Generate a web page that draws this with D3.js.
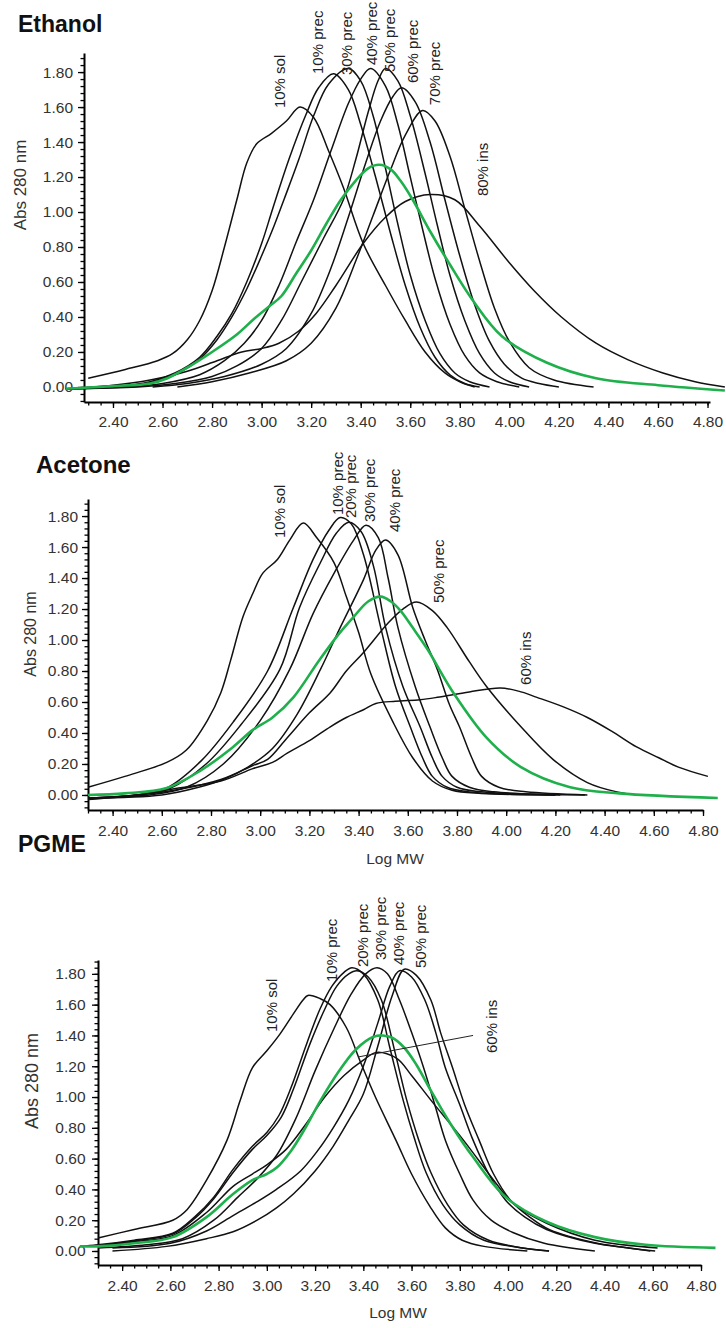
<!DOCTYPE html>
<html>
<head>
<meta charset="utf-8">
<script src="https://cdn.jsdelivr.net/npm/d3@7"></script>
<style>
  body { margin: 0; background: #fff; }
  svg text { font-family: "Liberation Sans", Arial, sans-serif; }
</style>
</head>
<body>
<svg id="chart" width="726" height="1328"></svg>
<script>
// tick labels shared by the three panels
var xTicks = [2.4, 2.6, 2.8, 3.0, 3.2, 3.4, 3.6, 3.8, 4.0, 4.2, 4.4, 4.6, 4.8];
var yTicks = [0, 0.2, 0.4, 0.6, 0.8, 1.0, 1.2, 1.4, 1.6, 1.8];

// ---- Ethanol: [log MW, Abs 280 nm]
var ethanolNames = ["10% sol", "10% prec", "30% prec", "40% prec", "50% prec", "60% prec", "70% prec", "80% ins"];
var eth10sol = [[2.30,0.05],[2.45,0.10],[2.58,0.15],[2.64,0.19],[2.70,0.27],[2.75,0.38],[2.80,0.55],[2.85,0.80],[2.90,1.07],[2.94,1.28],[2.98,1.39],[3.04,1.45],[3.10,1.52],[3.155,1.60],[3.21,1.54],[3.27,1.35],[3.33,1.14],[3.41,0.82],[3.50,0.58],[3.58,0.38],[3.66,0.20],[3.74,0.08],[3.80,0.03],[3.86,0.0]];
var eth10prec = [[2.21,-0.01],[2.40,0.0],[2.55,0.03],[2.65,0.08],[2.75,0.17],[2.82,0.29],[2.88,0.42],[2.94,0.60],[3.00,0.82],[3.045,1.02],[3.11,1.30],[3.18,1.56],[3.23,1.71],[3.29,1.79],[3.35,1.70],[3.40,1.50],[3.46,1.20],[3.52,0.88],[3.58,0.58],[3.64,0.34],[3.70,0.17],[3.76,0.07],[3.82,0.02],[3.88,0.0]];
var eth30prec = [[2.21,-0.01],[2.40,0.0],[2.55,0.025],[2.65,0.07],[2.75,0.16],[2.82,0.27],[2.88,0.40],[2.94,0.56],[3.00,0.75],[3.05,0.92],[3.09,1.07],[3.15,1.30],[3.21,1.55],[3.27,1.73],[3.35,1.82],[3.40,1.75],[3.45,1.55],[3.50,1.25],[3.55,0.93],[3.60,0.64],[3.66,0.38],[3.72,0.19],[3.78,0.08],[3.84,0.03],[3.92,0.0]];
var eth40prec = [[2.21,-0.01],[2.45,0.0],[2.60,0.02],[2.75,0.07],[2.85,0.15],[2.93,0.25],[3.00,0.38],[3.07,0.58],[3.14,0.83],[3.21,1.07],[3.28,1.35],[3.35,1.62],[3.40,1.76],[3.44,1.82],[3.50,1.72],[3.55,1.50],[3.60,1.20],[3.65,0.90],[3.70,0.62],[3.76,0.36],[3.82,0.18],[3.88,0.08],[3.95,0.03],[4.04,0.0]];
var eth50prec = [[2.21,-0.01],[2.50,0.0],[2.65,0.02],[2.80,0.06],[2.90,0.12],[3.00,0.22],[3.08,0.38],[3.16,0.60],[3.25,0.85],[3.33,1.07],[3.38,1.30],[3.43,1.57],[3.47,1.75],[3.50,1.82],[3.55,1.75],[3.60,1.55],[3.66,1.22],[3.71,0.92],[3.76,0.64],[3.82,0.38],[3.88,0.19],[3.94,0.08],[4.00,0.03],[4.08,0.0]];
var eth60prec = [[2.56,0.0],[2.70,0.02],[2.85,0.06],[3.00,0.13],[3.10,0.22],[3.20,0.42],[3.28,0.68],[3.35,0.97],[3.42,1.28],[3.48,1.52],[3.53,1.66],[3.565,1.71],[3.62,1.63],[3.68,1.40],[3.74,1.07],[3.80,0.75],[3.86,0.47],[3.92,0.26],[3.98,0.13],[4.05,0.05],[4.12,0.02],[4.20,0.0]];
var eth70prec = [[2.66,0.0],[2.80,0.03],[2.95,0.08],[3.10,0.15],[3.20,0.25],[3.30,0.45],[3.38,0.72],[3.45,0.98],[3.52,1.24],[3.58,1.44],[3.65,1.58],[3.70,1.52],[3.76,1.32],[3.82,1.02],[3.88,0.72],[3.94,0.45],[4.00,0.26],[4.08,0.11],[4.18,0.04],[4.34,0.0]];
var eth80ins = [[2.21,-0.01],[2.40,0.01],[2.55,0.04],[2.70,0.09],[2.82,0.15],[2.92,0.20],[3.00,0.22],[3.07,0.25],[3.15,0.32],[3.22,0.42],[3.30,0.58],[3.41,0.82],[3.50,0.97],[3.58,1.06],[3.68,1.10],[3.78,1.07],[3.88,0.92],[4.00,0.71],[4.10,0.55],[4.21,0.40],[4.35,0.25],[4.48,0.155],[4.62,0.08],[4.75,0.03],[4.87,0.0]];
var ethParent = [[2.21,-0.01],[2.40,0.005],[2.55,0.02],[2.62,0.05],[2.70,0.11],[2.80,0.20],[2.90,0.30],[2.97,0.39],[3.03,0.46],[3.08,0.52],[3.14,0.65],[3.20,0.78],[3.26,0.93],[3.32,1.07],[3.38,1.18],[3.43,1.25],[3.475,1.27],[3.52,1.245],[3.56,1.18],[3.61,1.07],[3.68,0.89],[3.76,0.70],[3.85,0.50],[3.97,0.29],[4.15,0.14],[4.35,0.05],[4.60,0.01],[4.87,-0.02]];
var ethanolLabelAt = [[3.073,1.594],[3.227,1.789],[3.344,1.783],[3.444,1.84],[3.517,1.80],[3.61,1.737],[3.698,1.611],[3.892,1.091]];

// ---- Acetone
var acetoneNames = ["10% sol", "10% prec", "20% prec", "30% prec", "40% prec", "50% prec", "60% ins"];
var ace10sol = [[2.30,0.05],[2.45,0.12],[2.62,0.21],[2.70,0.29],[2.785,0.48],[2.84,0.66],[2.88,0.87],[2.93,1.15],[2.97,1.30],[3.01,1.43],[3.07,1.52],[3.12,1.645],[3.175,1.755],[3.23,1.66],[3.30,1.50],[3.35,1.28],[3.40,1.05],[3.45,0.78],[3.54,0.47],[3.62,0.24],[3.70,0.09],[3.78,0.03],[3.90,0.01],[4.20,0.0]];
var ace10prec = [[2.30,-0.02],[2.50,0.0],[2.62,0.045],[2.76,0.22],[2.89,0.47],[3.03,0.80],[3.135,1.21],[3.215,1.52],[3.28,1.71],[3.325,1.79],[3.37,1.75],[3.42,1.55],[3.49,1.08],[3.55,0.70],[3.61,0.44],[3.66,0.24],[3.70,0.12],[3.76,0.05],[3.85,0.02],[4.00,0.005],[4.20,0.0]];
var ace20prec = [[2.30,-0.02],[2.50,0.0],[2.63,0.04],[2.78,0.20],[2.92,0.45],[3.08,0.81],[3.16,1.21],[3.245,1.50],[3.31,1.69],[3.36,1.76],[3.41,1.70],[3.46,1.48],[3.51,1.08],[3.58,0.70],[3.65,0.44],[3.70,0.24],[3.74,0.12],[3.80,0.05],[3.90,0.02],[4.22,0.0]];
var ace30prec = [[2.30,-0.02],[2.55,0.0],[2.70,0.05],[2.85,0.20],[3.00,0.48],[3.12,0.81],[3.215,1.17],[3.30,1.43],[3.38,1.645],[3.43,1.74],[3.48,1.66],[3.52,1.40],[3.56,1.08],[3.63,0.70],[3.69,0.44],[3.74,0.24],[3.78,0.12],[3.85,0.05],[3.95,0.02],[4.32,0.0]];
var ace40prec = [[2.30,-0.02],[2.60,0.0],[2.75,0.05],[2.85,0.10],[2.95,0.18],[3.05,0.30],[3.15,0.52],[3.245,0.81],[3.325,1.08],[3.42,1.39],[3.47,1.58],[3.51,1.645],[3.56,1.55],[3.62,1.21],[3.67,1.00],[3.72,0.81],[3.77,0.58],[3.81,0.44],[3.86,0.24],[3.90,0.12],[3.97,0.05],[4.08,0.02],[4.33,0.0]];
var ace50prec = [[2.30,-0.02],[2.50,0.0],[2.65,0.03],[2.84,0.10],[2.97,0.19],[3.03,0.23],[3.11,0.37],[3.20,0.53],[3.285,0.66],[3.35,0.80],[3.42,0.92],[3.52,1.11],[3.58,1.20],[3.635,1.245],[3.70,1.19],[3.76,1.08],[3.85,0.86],[3.92,0.70],[4.06,0.44],[4.19,0.23],[4.33,0.08],[4.45,0.02],[4.54,0.0]];
var ace60ins = [[2.30,-0.03],[2.50,0.0],[2.65,0.04],[2.84,0.09],[2.97,0.17],[3.05,0.21],[3.11,0.27],[3.20,0.35],[3.285,0.44],[3.35,0.50],[3.42,0.55],[3.47,0.59],[3.55,0.605],[3.65,0.615],[3.72,0.63],[3.85,0.665],[3.976,0.69],[4.05,0.67],[4.125,0.63],[4.23,0.57],[4.33,0.50],[4.43,0.41],[4.53,0.31],[4.62,0.24],[4.70,0.18],[4.82,0.12]];
var aceParent = [[2.30,0.0],[2.45,0.01],[2.62,0.045],[2.76,0.16],[2.89,0.31],[2.97,0.42],[3.05,0.50],[3.135,0.63],[3.24,0.87],[3.32,1.04],[3.38,1.15],[3.44,1.25],[3.49,1.28],[3.53,1.25],[3.57,1.19],[3.62,1.08],[3.68,0.94],[3.785,0.66],[3.92,0.37],[4.06,0.18],[4.26,0.05],[4.46,0.01],[4.86,-0.02]];
var acetoneLabelAt = [[3.081,1.658],[3.317,1.806],[3.37,1.787],[3.447,1.761],[3.545,1.697],[3.724,1.239],[4.081,0.71]];

// ---- PGME
var pgmeNames = ["10% sol", "10% prec", "20% prec", "30% prec", "40% prec", "50% prec", "60% ins"];
var pg10sol = [[2.30,0.085],[2.45,0.14],[2.61,0.20],[2.67,0.27],[2.75,0.46],[2.835,0.72],[2.89,0.98],[2.94,1.19],[3.00,1.30],[3.055,1.41],[3.11,1.54],[3.15,1.63],[3.17,1.66],[3.22,1.64],[3.262,1.60],[3.33,1.45],[3.39,1.22],[3.45,1.00],[3.535,0.72],[3.60,0.50],[3.676,0.29],[3.74,0.15],[3.81,0.07],[3.90,0.03],[4.08,0.0]];
var pg10prec = [[2.225,0.03],[2.30,0.04],[2.45,0.07],[2.61,0.115],[2.70,0.22],[2.78,0.35],[2.86,0.53],[2.94,0.68],[3.00,0.77],[3.05,0.88],[3.10,1.06],[3.166,1.35],[3.22,1.57],[3.27,1.72],[3.32,1.81],[3.353,1.84],[3.40,1.80],[3.46,1.63],[3.51,1.32],[3.565,0.98],[3.61,0.74],[3.66,0.51],[3.73,0.30],[3.80,0.17],[3.90,0.07],[4.06,0.02],[4.17,0.0]];
var pg20prec = [[2.30,0.035],[2.45,0.065],[2.61,0.11],[2.70,0.21],[2.78,0.34],[2.86,0.51],[2.94,0.66],[3.00,0.75],[3.06,0.87],[3.11,1.05],[3.18,1.35],[3.24,1.57],[3.29,1.72],[3.34,1.80],[3.374,1.82],[3.42,1.78],[3.475,1.63],[3.53,1.30],[3.58,0.98],[3.63,0.72],[3.68,0.51],[3.75,0.30],[3.815,0.17],[3.92,0.07],[4.06,0.02],[4.17,0.0]];
var pg30prec = [[2.30,0.02],[2.50,0.04],[2.65,0.08],[2.78,0.20],[2.88,0.35],[2.96,0.47],[3.04,0.62],[3.12,0.86],[3.20,1.17],[3.28,1.45],[3.35,1.67],[3.41,1.80],[3.457,1.84],[3.50,1.80],[3.55,1.63],[3.60,1.42],[3.65,1.19],[3.70,0.93],[3.74,0.72],[3.80,0.50],[3.855,0.33],[3.93,0.20],[4.02,0.12],[4.15,0.05],[4.36,0.0]];
var pg40prec = [[2.36,0.02],[2.60,0.05],[2.75,0.13],[2.86,0.23],[2.96,0.32],[3.04,0.40],[3.14,0.52],[3.21,0.65],[3.275,0.80],[3.34,0.98],[3.40,1.20],[3.46,1.48],[3.51,1.72],[3.55,1.82],[3.60,1.78],[3.655,1.63],[3.70,1.42],[3.74,1.19],[3.80,0.95],[3.855,0.72],[3.92,0.50],[3.99,0.33],[4.07,0.22],[4.16,0.14],[4.36,0.05],[4.50,0.02],[4.59,0.0]];
var pg50prec = [[2.36,0.0],[2.585,0.03],[2.75,0.08],[2.86,0.125],[2.96,0.20],[3.04,0.28],[3.11,0.37],[3.20,0.52],[3.275,0.68],[3.34,0.85],[3.40,1.02],[3.46,1.33],[3.52,1.66],[3.57,1.83],[3.62,1.79],[3.68,1.63],[3.72,1.42],[3.77,1.19],[3.82,0.95],[3.88,0.72],[3.94,0.50],[4.01,0.33],[4.09,0.22],[4.17,0.14],[4.37,0.05],[4.50,0.02],[4.61,0.0]];
var pg60ins = [[2.30,0.03],[2.45,0.06],[2.61,0.10],[2.75,0.25],[2.86,0.42],[2.94,0.50],[3.00,0.56],[3.08,0.66],[3.16,0.82],[3.24,1.00],[3.32,1.14],[3.40,1.24],[3.455,1.29],[3.54,1.25],[3.60,1.14],[3.68,0.98],[3.815,0.72],[3.95,0.44],[4.02,0.31],[4.16,0.18],[4.36,0.07],[4.62,0.02]];
var pgParent = [[2.225,0.03],[2.30,0.03],[2.45,0.05],[2.61,0.09],[2.75,0.22],[2.86,0.37],[2.94,0.46],[3.00,0.50],[3.04,0.54],[3.10,0.65],[3.16,0.80],[3.22,0.97],[3.30,1.17],[3.37,1.31],[3.44,1.39],[3.48,1.40],[3.52,1.385],[3.57,1.32],[3.62,1.21],[3.67,1.07],[3.76,0.83],[3.855,0.61],[3.99,0.35],[4.16,0.19],[4.36,0.09],[4.57,0.04],[4.86,0.02]];
var pgmeLabelAt = [[3.021,1.422],[3.27,1.747],[3.399,1.844],[3.473,1.89],[3.548,1.857],[3.639,1.838],[3.934,1.286]];
var pgmeLeader = [[3.378,1.26],[3.855,1.40]];

var svg = d3.select("#chart");

var panels = [
    {title: "Ethanol", titleX: 18, titleY: 32, titleSize: 23,
     xDomain: [2.283, 4.81], xRange: [84, 710], yDomain: [-0.086, 1.909], yRange: [402, 53],
     xPad: 8, yPad: 5, yLabel: [20, 185, 17], xLabel: null,
     series: [eth10sol, eth10prec, eth30prec, eth40prec, eth50prec, eth60prec, eth70prec, eth80ins],
     parent: ethParent, names: ethanolNames, labelAt: ethanolLabelAt},
    {title: "Acetone", titleX: 36, titleY: 473, titleSize: 24,
     xDomain: [2.30, 4.80], xRange: [88, 703], yDomain: [-0.097, 1.91], yRange: [810, 499],
     xPad: 9, yPad: 4, yLabel: [30, 634, 16], xLabel: [395, 864],
     series: [ace10sol, ace10prec, ace20prec, ace30prec, ace40prec, ace50prec, ace60ins],
     parent: aceParent, names: acetoneNames, labelAt: acetoneLabelAt},
    {title: "PGME", titleX: 18, titleY: 852, titleSize: 23,
     xDomain: [2.30, 4.80], xRange: [98, 701], yDomain: [-0.091, 1.89], yRange: [1265, 960],
     xPad: 9, yPad: 6.5, yLabel: [32, 1081, 18], xLabel: [398, 1318],
     series: [pg10sol, pg10prec, pg20prec, pg30prec, pg40prec, pg50prec, pg60ins],
     parent: pgParent, names: pgmeNames, labelAt: pgmeLabelAt, leader: pgmeLeader}
];

function minorTicks(domain, step) {
    var start = Math.ceil(domain[0] / step - 1e-6) * step;
    return d3.range(start, domain[1] + 1e-6, step);
}

function drawPanel(p) {
    var g = svg.append("g");
    var x = d3.scaleLinear().domain(p.xDomain).range(p.xRange);
    var y = d3.scaleLinear().domain(p.yDomain).range(p.yRange);

    // minor ticks
    g.append("g")
        .attr("class", "minor")
        .attr("transform", "translate(0," + p.yRange[0] + ")")
        .call(d3.axisBottom(x).tickValues(minorTicks(p.xDomain, 0.05)).tickSize(3.5).tickSizeOuter(0).tickFormat(""));
    g.append("g")
        .attr("class", "minor")
        .attr("transform", "translate(" + p.xRange[0] + ",0)")
        .call(d3.axisLeft(y).tickValues(minorTicks(p.yDomain, 0.04)).tickSize(3.5).tickSizeOuter(0).tickFormat(""));
    g.selectAll(".minor .domain").remove();

    // major ticks and axis lines
    g.append("g")
        .attr("transform", "translate(0," + p.yRange[0] + ")")
        .call(d3.axisBottom(x).tickValues(xTicks).tickSize(6).tickSizeOuter(0)
            .tickPadding(p.xPad).tickFormat(d3.format(".2f")));
    g.append("g")
        .attr("transform", "translate(" + p.xRange[0] + ",0)")
        .call(d3.axisLeft(y).tickValues(yTicks).tickSize(6).tickSizeOuter(0)
            .tickPadding(p.yPad).tickFormat(d3.format(".2f")));

    g.selectAll(".domain").attr("stroke", "#000").attr("stroke-width", 2);
    g.selectAll(".tick line").attr("stroke", "#000").attr("stroke-width", 1.3);
    g.selectAll(".tick text").attr("font-size", 15.5).attr("fill", "#333")
        .attr("font-family", "'Liberation Sans', Arial, sans-serif");

    // curves
    var line = d3.line()
        .x(function(d) { return x(d[0]); })
        .y(function(d) { return y(d[1]); })
        .curve(d3.curveCatmullRom.alpha(0.5));

    g.selectAll("path.fraction")
        .data(p.series)
        .enter()
        .append("path")
        .attr("class", "fraction")
        .attr("d", line)
        .attr("fill", "none")
        .attr("stroke", "#111")
        .attr("stroke-width", 1.5);

    g.append("path")
        .attr("d", line(p.parent))
        .attr("fill", "none")
        .attr("stroke", "#1fb04c")
        .attr("stroke-width", 2.6);

    if (p.leader) {
        g.append("path")
            .attr("d", d3.line().x(function(d) { return x(d[0]); }).y(function(d) { return y(d[1]); })(p.leader))
            .attr("stroke", "#222")
            .attr("stroke-width", 1);
    }

    // rotated fraction labels
    g.selectAll("text.lbl")
        .data(p.names)
        .enter()
        .append("text")
        .attr("class", "lbl")
        .attr("transform", function(d, i) {
            return "translate(" + x(p.labelAt[i][0]) + "," + y(p.labelAt[i][1]) + ") rotate(-90)";
        })
        .attr("dy", "0.35em")
        .attr("font-size", 15)
        .attr("fill", "#222")
        .text(function(d) { return d; });

    // title
    g.append("text")
        .attr("x", p.titleX)
        .attr("y", p.titleY)
        .attr("font-size", p.titleSize)
        .attr("font-weight", "bold")
        .attr("fill", "#111")
        .text(p.title);

    // axis titles
    g.append("text")
        .attr("transform", "translate(" + p.yLabel[0] + "," + p.yLabel[1] + ") rotate(-90)")
        .attr("text-anchor", "middle")
        .attr("dy", "0.35em")
        .attr("font-size", p.yLabel[2])
        .attr("fill", "#333")
        .text("Abs 280 nm");

    if (p.xLabel) {
        g.append("text")
            .attr("x", p.xLabel[0])
            .attr("y", p.xLabel[1])
            .attr("text-anchor", "middle")
            .attr("font-size", 15.5)
            .attr("fill", "#333")
            .text("Log MW");
    }
}

panels.forEach(drawPanel);
</script>
</body>
</html>
